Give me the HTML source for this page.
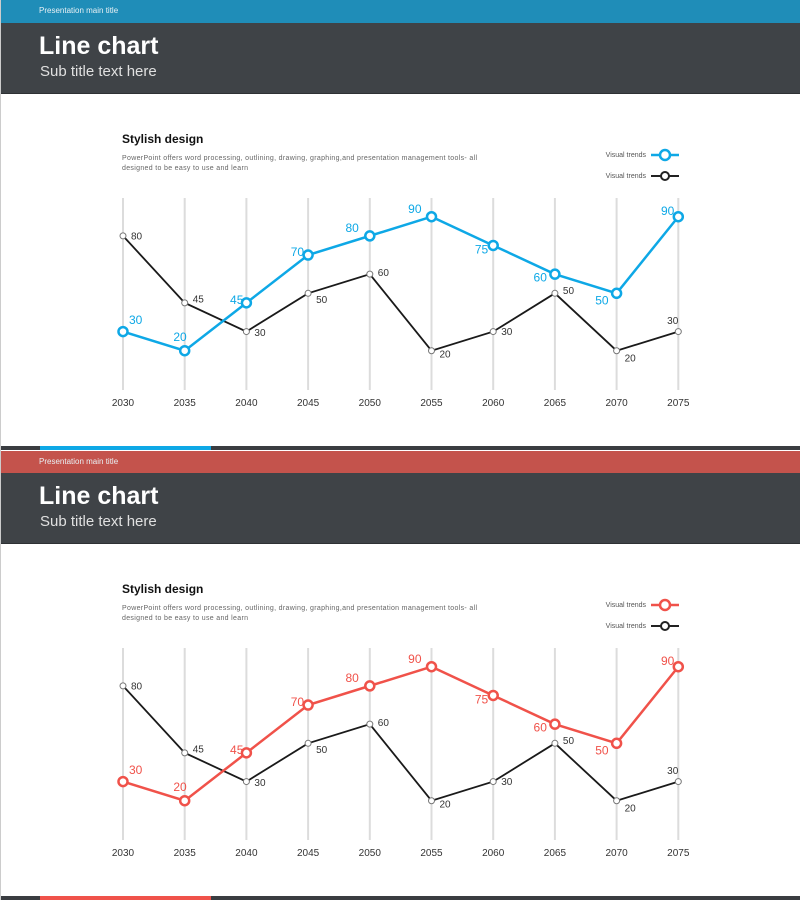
<!DOCTYPE html>
<html><head><meta charset="utf-8">
<style>
body{margin:0;width:800px;height:900px;overflow:hidden;background:#fff;font-family:"Liberation Sans",sans-serif}
.slide{position:absolute;left:0;width:800px;height:450px;background:#fff;border-left:1px solid #ccc;box-sizing:border-box}
.topbar{position:absolute;left:0;top:0;width:800px;height:23px}
.topbar span{position:absolute;left:38px;top:6px;font-size:8px;color:#e8f0f4}
.head{position:absolute;left:0;top:23px;width:800px;height:70px;background:#3f4347;border-bottom:1px solid #2e3134}
.head h1{position:absolute;left:38px;top:9px;margin:0;font-size:25px;font-weight:bold;color:#fff}
.head h2{position:absolute;left:39px;top:40px;margin:0;font-size:15px;font-weight:normal;color:#e0e0e0}
.botline{position:absolute;left:0;top:446px;width:800px;height:4px;background:#3a3d41}
.botline i{position:absolute;left:39px;top:0;width:171px;height:4px}
svg{position:absolute;left:0;top:0}
</style></head><body>
<div class="slide" id="s1" style="top:0">
 <div class="topbar" style="background:#1f8db8"><span>Presentation main title</span></div>
 <div class="head"><h1>Line chart</h1><h2>Sub title text here</h2></div>
 <div class="botline"><i style="background:#0ea8e6"></i></div>
</div>
<div class="slide" id="s2" style="top:450px">
 <div class="topbar" style="background:#c4534c;top:1px;height:22px"><span>Presentation main title</span></div>
 <div class="head"><h1>Line chart</h1><h2>Sub title text here</h2></div>
 <div class="botline"><i style="background:#f0524a"></i></div>
</div>
<script>
const years=["2030","2035","2040","2045","2050","2055","2060","2065","2070","2075"];
const colorSeries=[30,20,45,70,80,90,75,60,50,90];
const blackSeries=[80,45,30,50,60,20,30,50,20,30];
// label offsets (style only)
const colorOff=[[6,-11,"start"],[2,-13,"end"],[-3,-2,"end"],[-4,-2,"end"],[-11,-7,"end"],[-10,-7,"end"],[-5,5,"end"],[-8,4,"end"],[-8,8,"end"],[-4,-5,"end"]];
const blackOff=[[8,1,"start"],[8,-3,"start"],[8,2,"start"],[8,7,"start"],[8,-1,"start"],[8,4,"start"],[8,1,"start"],[8,-2,"start"],[8,8,"start"],[0,-10,"end"]];
const NS="http://www.w3.org/2000/svg";
function xS(i){return 122+i*61.7;}
function yS(v){return 389-v*1.914;}
function mk(p,t,a){const e=document.createElementNS(NS,t);for(const k in a)e.setAttribute(k,a[k]);p.appendChild(e);return e;}
function build(id,col){
 const slide=document.getElementById(id);
 const svg=mk(slide,"svg",{width:800,height:450});
 
 
 const t=mk(svg,"text",{x:121,y:143,"font-size":12,"font-weight":"bold",fill:"#111"});t.textContent="Stylish design";
 
 
 const d1=mk(svg,"text",{x:121,y:160,"font-size":7,fill:"#666",textLength:355,lengthAdjust:"spacing"});d1.textContent="PowerPoint  offers  word  processing,  outlining,  drawing,  graphing,and  presentation  management tools- all";
 
 
 const d2=mk(svg,"text",{x:121,y:170,"font-size":7,fill:"#666",textLength:126,lengthAdjust:"spacing"});d2.textContent="designed to be easy to use and learn";
 
 
 [[155,col,2.5,5],[176,"#222",2,4]].forEach((L,k)=>{
  const g=mk(svg,"g",{});
  
  
  const lt=mk(g,"text",{x:645,y:L[0]+2,"font-size":7,fill:"#555","text-anchor":"end"});lt.textContent="Visual trends";
  mk(g,"line",{x1:650,x2:678,y1:L[0],y2:L[0],stroke:L[1],"stroke-width":L[2]});
  mk(g,"circle",{cx:664,cy:L[0],r:L[3],fill:"#fff",stroke:L[1],"stroke-width":L[2]});
 });
 years.forEach((y,i)=>{
  const gl=mk(svg,"line",{x1:xS(i),x2:xS(i),y1:198,y2:390,stroke:"#dcdcdc","stroke-width":2});
  
  
  const tl=mk(svg,"text",{x:xS(i),y:406,"font-size":10,fill:"#333","text-anchor":"middle"});tl.textContent=y;
  
  
 });
 function series(vals,off,c,w,r,fs,name){
  const pl=mk(svg,"polyline",{points:vals.map((v,i)=>xS(i)+","+yS(v)).join(" "),fill:"none",stroke:c,"stroke-width":w});
  
  
  vals.forEach((v,i)=>{
   const pt=mk(svg,"circle",{cx:xS(i),cy:yS(v),r:r,fill:"#fff",stroke:name=="black-series"?"#777":c,"stroke-width":name=="black-series"?1:2.5});
   
   
   const o=off[i];
   const lb=mk(svg,"text",{x:xS(i)+o[0],y:yS(v)+o[1],"font-size":fs,fill:name=="black-series"?"#333":c,"text-anchor":o[2],"dominant-baseline":"middle"});lb.textContent=v;
   
   
  });
 }
 series(blackSeries,blackOff,"#1a1a1a",1.8,3,10,"black-series");
 series(colorSeries,colorOff,col,2.5,4.5,12,"color-series");
}
build("s1","#0ea8e6");
build("s2","#f0524a");
</script>
</body></html>
